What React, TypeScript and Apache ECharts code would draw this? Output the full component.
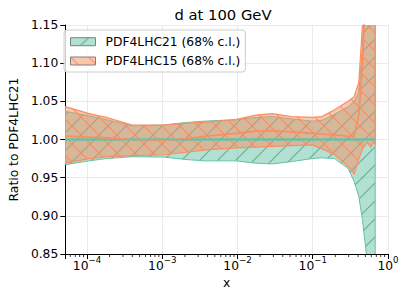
import React, { useEffect, useRef } from 'react';
import * as echarts from 'echarts';

// ---- data ----
const X = [5.15e-5, 1.07e-4, 1.8e-4, 4.0e-4, 1.05e-3, 1.95e-3, 3.55e-3, 9.5e-3, 1.75e-2, 2.9e-2, 5.2e-2, 9.8e-2, 0.132, 0.195, 0.295, 0.355, 0.41, 0.457, 0.48, 0.5, 0.537, 0.59, 0.645, 0.676];

const G21_HI = [1.037, 1.031, 1.026, 1.018, 1.019, 1.022, 1.024, 1.026, 1.029, 1.030, 1.027, 1.024, 1.025, 1.033, 1.043, 1.050, 1.062, 1.12, 1.17, 1.22, 1.27, 1.30, 1.32, 1.33];
const G21_LO = [0.967, 0.972, 0.975, 0.9775, 0.977, 0.974, 0.972, 0.972, 0.969, 0.968, 0.971, 0.975, 0.976, 0.975, 0.962, 0.945, 0.925, 0.895, 0.877, 0.862, 0.835, 0.78, 0.74, 0.72];
const G21_MID = [1, 1, 1, 1, 1, 1, 1, 1, 1, 1, 1, 1, 1, 1, 1, 1, 1, 1, 1, 1, 1, 1, 1, 1];

const G15_HI = [1.043, 1.034, 1.029, 1.019, 1.019, 1.021, 1.0225, 1.026, 1.032, 1.034, 1.030, 1.029, 1.030, 1.039, 1.050, 1.056, 1.075, 1.15, 1.2, 1.25, 1.3, 1.35, 1.38, 1.40];
const G15_LO = [0.969, 0.975, 0.9775, 0.979, 0.980, 0.983, 0.986, 0.989, 0.990, 0.991, 0.992, 0.993, 0.988, 0.980, 0.965, 0.955, 0.975, 0.987, 0.991, 0.993, 0.996, 0.990, 0.997, 0.993];
const G15_MID = [1.0046, 1.003, 1.002, 1.000, 0.999, 1.001, 1.004, 1.008, 1.011, 1.0115, 1.010, 1.008, 1.007, 1.006, 1.004, 1.004, 1.033, 1.095, 1.15, 1.2, 1.26, 1.32, 1.38, 1.42];

const NAME21 = 'PDF4LHC21 (68% c.l.)';
const NAME15 = 'PDF4LHC15 (68% c.l.)';
const TITLE = 'd at 100 GeV';
const X_NAME = 'x';
const Y_NAME = 'Ratio to PDF4LHC21';

const X_MIN = 5.15e-5;
const X_MAX = 1;
const Y_MIN = 0.85;
const Y_MAX = 1.15;
const Y_STEP = 0.05;

const MINOR_TICKS = [
  6e-5, 7e-5, 8e-5, 9e-5,
  2e-4, 3e-4, 4e-4, 5e-4, 6e-4, 7e-4, 8e-4, 9e-4,
  2e-3, 3e-3, 4e-3, 5e-3, 6e-3, 7e-3, 8e-3, 9e-3,
  2e-2, 3e-2, 4e-2, 5e-2, 6e-2, 7e-2, 8e-2, 9e-2,
  2e-1, 3e-1, 4e-1, 5e-1, 6e-1, 7e-1, 8e-1, 9e-1,
];

const GREEN = '#66c2a5';
const ORANGE = '#fc8d62';
const FONT = 'DejaVu Sans';

function hatch(fill: string, stroke: string, dir: number, s: number, lw: number) {
  const c = document.createElement('canvas');
  c.width = s;
  c.height = s;
  const ctx = c.getContext('2d')!;
  ctx.fillStyle = fill;
  ctx.fillRect(0, 0, s, s);
  ctx.strokeStyle = stroke;
  ctx.lineWidth = lw;
  ctx.beginPath();
  for (let k = -1; k <= 1; k++) {
    if (dir > 0) {
      ctx.moveTo(k * s, s);
      ctx.lineTo(k * s + s, 0);
    } else {
      ctx.moveTo(k * s, 0);
      ctx.lineTo(k * s + s, s);
    }
  }
  ctx.stroke();
  return { image: c, repeat: 'repeat', imageWidth: s, imageHeight: s } as any;
}

function bandRenderer(lo: number[], hi: number[], fill: any, stroke: string, lw: number) {
  return (params: any, api: any) => {
    if (params.dataIndex !== 0) return null;
    const pts: number[][] = [];
    for (let i = 0; i < X.length; i++) pts.push(api.coord([X[i], hi[i]]));
    for (let i = X.length - 1; i >= 0; i--) pts.push(api.coord([X[i], lo[i]]));
    return {
      type: 'polygon',
      shape: { points: pts },
      style: { fill, stroke, lineWidth: lw },
    };
  };
}

export default function App() {
  const ref = useRef<HTMLDivElement>(null);
  useEffect(() => {
    document.body.style.margin = '0';
    const chart = echarts.init(ref.current!, null, { renderer: 'svg' });
    const greenPat = hatch('rgba(102,194,165,0.5)', 'rgba(70,165,130,0.75)', 1, 18, 1.2);
    const orangePat = hatch('rgba(252,141,98,0.5)', 'rgba(252,141,98,0.95)', -1, 18, 1.2);

    const option: any = {
      animation: false,
      textStyle: { fontFamily: FONT },
      title: {
        text: TITLE,
        left: 223,
        top: 5,
        padding: 0,
        textAlign: 'center',
        textStyle: { fontSize: 14.76, fontWeight: 'normal', color: '#000', fontFamily: FONT, lineHeight: 18 },
      },
      grid: { left: 59, right: 19, top: 25, bottom: 45, containLabel: false },
      legend: {
        orient: 'vertical',
        left: 64,
        top: 30,
        padding: [4.7, 5, 4, 6],
        itemGap: 5.3,
        itemWidth: 25,
        itemHeight: 8,
        backgroundColor: 'rgba(255,255,255,0.8)',
        borderColor: '#cccccc',
        borderWidth: 1,
        borderRadius: 3,
        selectedMode: false,
        textStyle: { fontSize: 12.3, fontFamily: FONT, color: '#000', lineHeight: 14, padding: [0, 0, 0, 5] },
        data: [
          { name: NAME21, icon: 'rect', itemStyle: { color: greenPat, borderColor: '#808080', borderWidth: 1 } },
          { name: NAME15, icon: 'rect', itemStyle: { color: orangePat, borderColor: '#808080', borderWidth: 1 } },
        ],
      },
      xAxis: {
        type: 'log',
        logBase: 10,
        min: X_MIN,
        max: X_MAX,
        name: X_NAME,
        nameLocation: 'middle',
        nameGap: 22,
        nameTextStyle: { fontSize: 12.3, color: '#000', fontFamily: FONT },
        axisLine: { show: true, onZero: false, lineStyle: { color: '#000', width: 1 } },
        axisTick: { show: true, length: 5, lineStyle: { color: '#000', width: 1 } },
        minorTick: { show: false },
        minorSplitLine: { show: false },
        splitLine: { show: true, lineStyle: { color: '#e6e6e6', width: 0.8 } },
        axisLabel: {
          margin: 1,
          color: '#000',
          formatter: (v: number) => {
            const e = Math.log10(v);
            const r = Math.round(e);
            if (Math.abs(e - r) > 1e-6) return '';
            return `{b|10}{s|${r < 0 ? '\u2212' : ''}${Math.abs(r)}}`;
          },
          rich: {
            b: { fontSize: 12.3, fontFamily: FONT, color: '#000', verticalAlign: 'bottom', lineHeight: 14 },
            s: { fontSize: 8.6, fontFamily: FONT, color: '#000', verticalAlign: 'top', lineHeight: 17 },
          },
        },
      },
      yAxis: {
        type: 'value',
        min: Y_MIN,
        max: Y_MAX,
        interval: Y_STEP,
        name: Y_NAME,
        nameLocation: 'middle',
        nameGap: 39,
        nameTextStyle: { fontSize: 12.3, color: '#000', fontFamily: FONT },
        axisLine: { show: true, onZero: false, lineStyle: { color: '#000', width: 1 } },
        axisTick: { show: true, length: 5, lineStyle: { color: '#000', width: 1 } },
        splitLine: { show: true, lineStyle: { color: '#e6e6e6', width: 0.8 } },
        axisLabel: {
          margin: 7,
          fontSize: 12.3,
          color: '#000',
          fontFamily: FONT,
          formatter: (v: number) => v.toFixed(2),
        },
      },
      series: [
        {
          type: 'custom',
          name: NAME21,
          coordinateSystem: 'cartesian2d',
          clip: true,
          silent: true,
          z: 2,
          data: X.map((x, i) => [x, G21_LO[i], G21_HI[i]]),
          encode: { x: 0, y: [1, 2] },
          renderItem: bandRenderer(G21_LO, G21_HI, greenPat, GREEN, 1),
        },
        {
          type: 'custom',
          name: NAME15,
          coordinateSystem: 'cartesian2d',
          clip: true,
          silent: true,
          z: 2,
          data: X.map((x, i) => [x, G15_LO[i], G15_HI[i]]),
          encode: { x: 0, y: [1, 2] },
          renderItem: bandRenderer(G15_LO, G15_HI, orangePat, ORANGE, 1.2),
        },
        {
          type: 'line',
          name: 'PDF4LHC21 central',
          data: X.map((x, i) => [x, G21_MID[i]]),
          symbol: 'none',
          clip: true,
          silent: true,
          z: 3,
          lineStyle: { color: GREEN, width: 2.6 },
          emphasis: { disabled: true },
        },
        {
          type: 'line',
          name: 'PDF4LHC15 central',
          data: X.map((x, i) => [x, G15_MID[i]]),
          symbol: 'none',
          clip: true,
          silent: true,
          z: 4,
          lineStyle: { color: ORANGE, width: 1.7 },
          emphasis: { disabled: true },
        },
        {
          type: 'custom',
          name: 'minor ticks',
          coordinateSystem: 'cartesian2d',
          clip: false,
          silent: true,
          z: 5,
          data: MINOR_TICKS.map((v) => [v, Y_MIN]),
          encode: { x: 0, y: 1 },
          renderItem: (params: any, api: any) => {
            const p = api.coord([api.value(0), api.value(1)]);
            return {
              type: 'line',
              shape: { x1: p[0], y1: p[1], x2: p[0], y2: p[1] + 3 },
              style: { stroke: '#000', lineWidth: 0.8 },
            };
          },
        },
      ],
    };
    chart.setOption(option);
    return () => chart.dispose();
  }, []);
  return <div ref={ref} style={{ width: 407, height: 299 }} />;
}
